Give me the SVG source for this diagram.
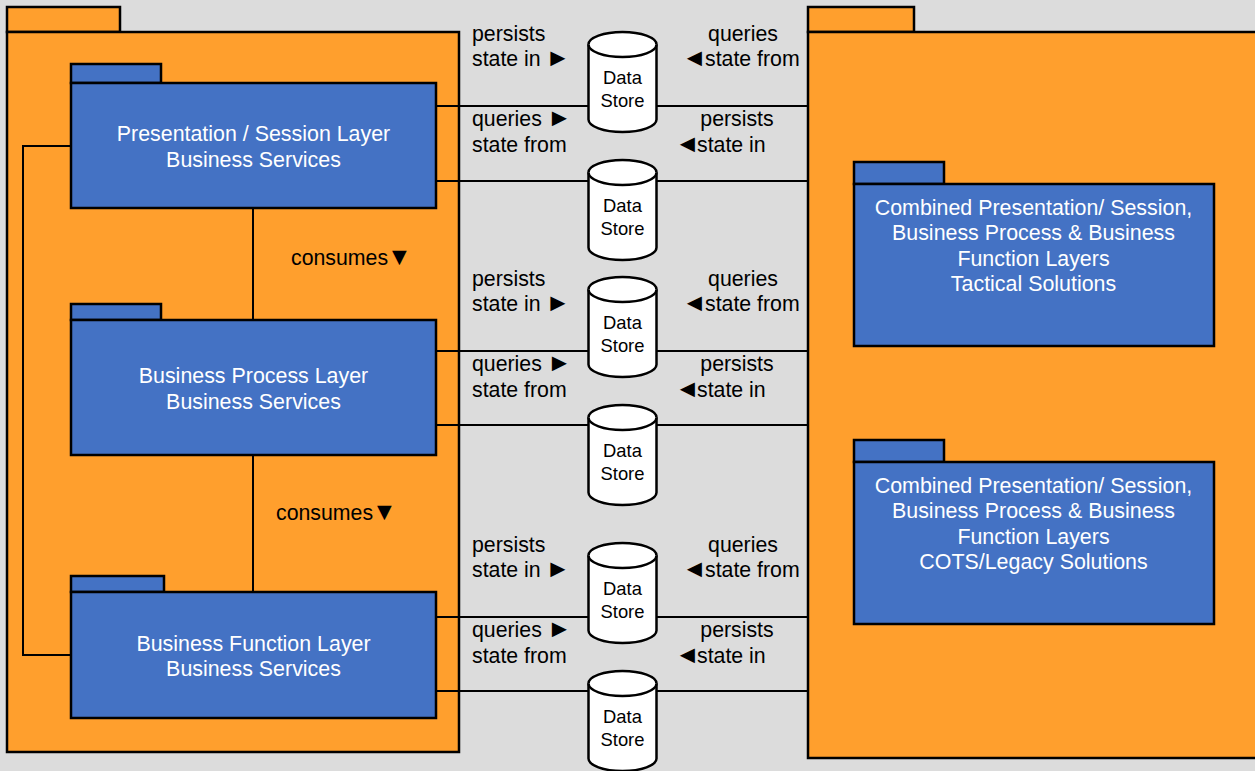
<svg xmlns="http://www.w3.org/2000/svg" xmlns:xlink="http://www.w3.org/1999/xlink" width="1255" height="771" viewBox="0 0 1255 771">
<style>
text{font-family:"Liberation Sans",Arial,sans-serif;}
.o{fill:#ff9f2d;stroke:#000;stroke-width:2.5}
.b{fill:#4472c4;stroke:#000;stroke-width:2.5}
.c{fill:none;stroke:#000;stroke-width:2}
.w{fill:#fff;font-size:21.4px;text-anchor:middle}
.k{fill:#000;font-size:21.3px}
.t{fill:#000;font-size:25px}
.m{text-anchor:middle}
.d{fill:#000;font-size:18.400px;text-anchor:middle}
.cy{fill:#fff;stroke:#000;stroke-width:2.5}
</style>
<defs>
<g id="cyl">
<path class="cy" d="M-34 12.500V87.500A34 12.500 0 0 0 34 87.500V12.500A34 12.500 0 0 0 -34 12.500Z"/>
<path class="cy" d="M-34 12.500A34 12.500 0 0 0 34 12.500"/>
<text class="d" y="52">Data</text>
<text class="d" y="75">Store</text>
</g>
<g id="lab">
<text class="k" x="472" y="0">persists</text>
<text class="k" x="472" y="25">state in</text><text class="t" x="545.500" y="25">►</text>
<text class="k" x="472" y="85">queries</text><text class="t" x="547" y="85">►</text>
<text class="k" x="472" y="111">state from</text>
<text class="k m" x="743" y="0">queries</text>
<text class="t" x="682" y="25">◄</text><text class="k" x="705" y="25">state from</text>
<text class="k m" x="737" y="85">persists</text>
<text class="t" x="675" y="111">◄</text><text class="k" x="697" y="111">state in</text>
</g>
</defs>
<rect width="1255" height="771" fill="#dcdcdc"/>
<g id="pkg-left">
<rect class="o" x="7" y="7" width="113" height="25"/>
<rect class="o" x="7" y="32" width="452" height="720"/>
</g>
<g id="pkg-right">
<rect class="o" x="808" y="7" width="106" height="25"/>
<rect class="o" x="808" y="32" width="460" height="726"/>
</g>
<g id="connectors">
<path class="c" d="M436 106H808M436 181H808M436 351H808M436 425H808M436 617H808M436 691H808"/>
<path class="c" d="M253 208V320M253 455V592M71 146H23V655H71"/>
</g>
<g id="presentation">
<rect class="b" x="71" y="64" width="90" height="19"/>
<rect class="b" x="71" y="83" width="365" height="125"/>
<text class="w" x="253.500" y="141">Presentation / Session Layer</text>
<text class="w" x="253.500" y="167">Business Services</text>
</g>
<g id="process">
<rect class="b" x="71" y="304" width="90" height="16"/>
<rect class="b" x="71" y="320" width="365" height="135"/>
<text class="w" x="253.500" y="383">Business Process Layer</text>
<text class="w" x="253.500" y="409">Business Services</text>
</g>
<g id="function">
<rect class="b" x="71" y="576" width="93" height="16"/>
<rect class="b" x="71" y="592" width="365" height="126"/>
<text class="w" x="253.500" y="651">Business Function Layer</text>
<text class="w" x="253.500" y="676">Business Services</text>
</g>
<g id="tactical">
<rect class="b" x="854" y="162" width="90" height="22"/>
<rect class="b" x="854" y="184" width="360" height="162"/>
<text class="w" x="1033.500" y="215">Combined Presentation/ Session,</text>
<text class="w" x="1033.500" y="240">Business Process &amp; Business</text>
<text class="w" x="1033.500" y="266">Function Layers</text>
<text class="w" x="1033.500" y="291">Tactical Solutions</text>
</g>
<g id="cots">
<rect class="b" x="854" y="440" width="90" height="22"/>
<rect class="b" x="854" y="462" width="360" height="162"/>
<text class="w" x="1033.500" y="493">Combined Presentation/ Session,</text>
<text class="w" x="1033.500" y="518">Business Process &amp; Business</text>
<text class="w" x="1033.500" y="544">Function Layers</text>
<text class="w" x="1033.500" y="569">COTS/Legacy Solutions</text>
</g>
<g id="stores">
<use xlink:href="#cyl" href="#cyl" x="622.500" y="32"/>
<use xlink:href="#cyl" href="#cyl" x="622.500" y="160"/>
<use xlink:href="#cyl" href="#cyl" x="622.500" y="277"/>
<use xlink:href="#cyl" href="#cyl" x="622.500" y="405"/>
<use xlink:href="#cyl" href="#cyl" x="622.500" y="543"/>
<use xlink:href="#cyl" href="#cyl" x="622.500" y="671"/>
</g>
<g id="labels">
<use xlink:href="#lab" href="#lab" y="41"/>
<use xlink:href="#lab" href="#lab" y="286"/>
<use xlink:href="#lab" href="#lab" y="552"/>
<text class="k" x="291" y="265">consumes</text><text class="t" x="387" y="265">▼</text>
<text class="k" x="276" y="520">consumes</text><text class="t" x="372" y="520">▼</text>
</g>
</svg>
